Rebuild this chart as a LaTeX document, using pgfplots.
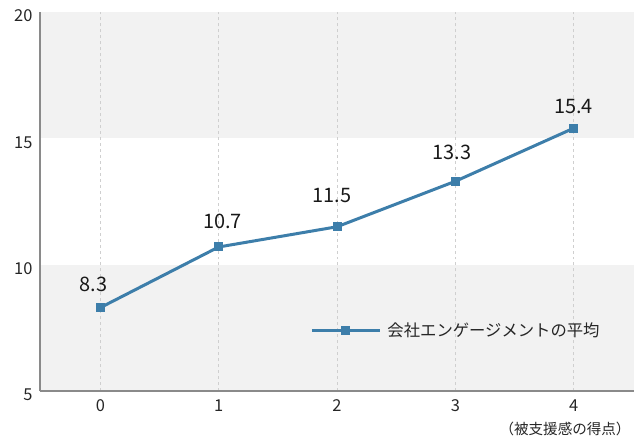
\documentclass[border=0pt]{standalone}
\usepackage{pgfplots}
\usepackage{pgfplotstable}
\pgfplotsset{compat=1.18}
\usepackage{fontspec}
\setmainfont{Noto Sans CJK JP}
\definecolor{lineblue}{HTML}{3D7EAA}
\definecolor{bandgray}{HTML}{F2F2F2}
\definecolor{axisgray}{HTML}{8A8A8A}
\definecolor{gridgray}{HTML}{CFCFCF}

% score, average, label offsets (bp)
\pgfplotstableread{
x y lbl dx dy
0 8.3 8.3 -7 23.5
1 10.7 10.7 4 26
2 11.5 11.5 -5 31.5
3 13.3 13.3 -3.5 28.5
4 15.4 15.4 0 22
}\avgdata

\begin{document}
\begin{tikzpicture}
\begin{axis}[
  set layers,
  scale only axis,
  width=594bp, height=379bp,
  xmin=-0.51, xmax=4.51,
  ymin=5, ymax=20,
  xtick={0,1,2,3,4},
  ytick={5,10,15,20},
  axis lines*=left,
  axis line style={axisgray, line width=1.2bp},
  x axis line style={-}, y axis line style={-},
  tick style={draw=none},
  xmajorgrids=true,
  grid style={gridgray, dashed, line width=0.6bp},
  /pgf/number format/assume math mode=true,
  ticklabel style={font=\fontsize{16.5}{19}\selectfont, text=black!85},
  xticklabel style={yshift=-5bp},
  yticklabel style={xshift=-4bp, yshift=-4bp},
  xlabel={（被支援感の得点）},
  xlabel style={font=\fontsize{14.6}{17}\selectfont, at={(rel axis cs:1,0)}, anchor=north east, yshift=-28bp, xshift=0bp, text=black!85},
  legend style={at={(0.45,0.16)}, anchor=west, draw=none, fill=none,
    font=\fontsize{16.4}{19}\selectfont, text=black!85},
  legend cell align=left,
  legend image code/.code={
    \draw[#1, mark repeat=2, mark phase=2] plot coordinates {(0bp,0bp) (34bp,0bp) (68bp,0bp)};
  },
  legend style={nodes={inner xsep=6bp}},
  clip=false,
]
\begin{pgfonlayer}{axis background}
  \fill[bandgray] (axis cs:-0.51,15) rectangle (axis cs:4.51,20);
  \fill[bandgray] (axis cs:-0.51,5) rectangle (axis cs:4.51,10);
\end{pgfonlayer}
\addplot[lineblue, line width=3bp, mark=square*, mark size=4bp,
  mark options={solid, fill=lineblue, draw=lineblue, line width=0bp},
  point meta=explicit symbolic,
  visualization depends on={\thisrow{dx} \as \lbldx},
  visualization depends on={\thisrow{dy} \as \lbldy},
  nodes near coords,
  nodes near coords style={font=\fontsize{20}{22}\selectfont, anchor=center,
    xshift=\lbldx bp, yshift=\lbldy bp, text=black!90},
  ]
  table[x=x, y=y, meta=lbl] {\avgdata};
\addlegendentry{会社エンゲージメントの平均}
\end{axis}
\path (current axis.south west) ++(-40bp,-48bp) coordinate (bbA);
\path (current axis.north east) ++(5bp,12bp) coordinate (bbB);
\path (bbA) rectangle (bbB);
\end{tikzpicture}
\end{document}
